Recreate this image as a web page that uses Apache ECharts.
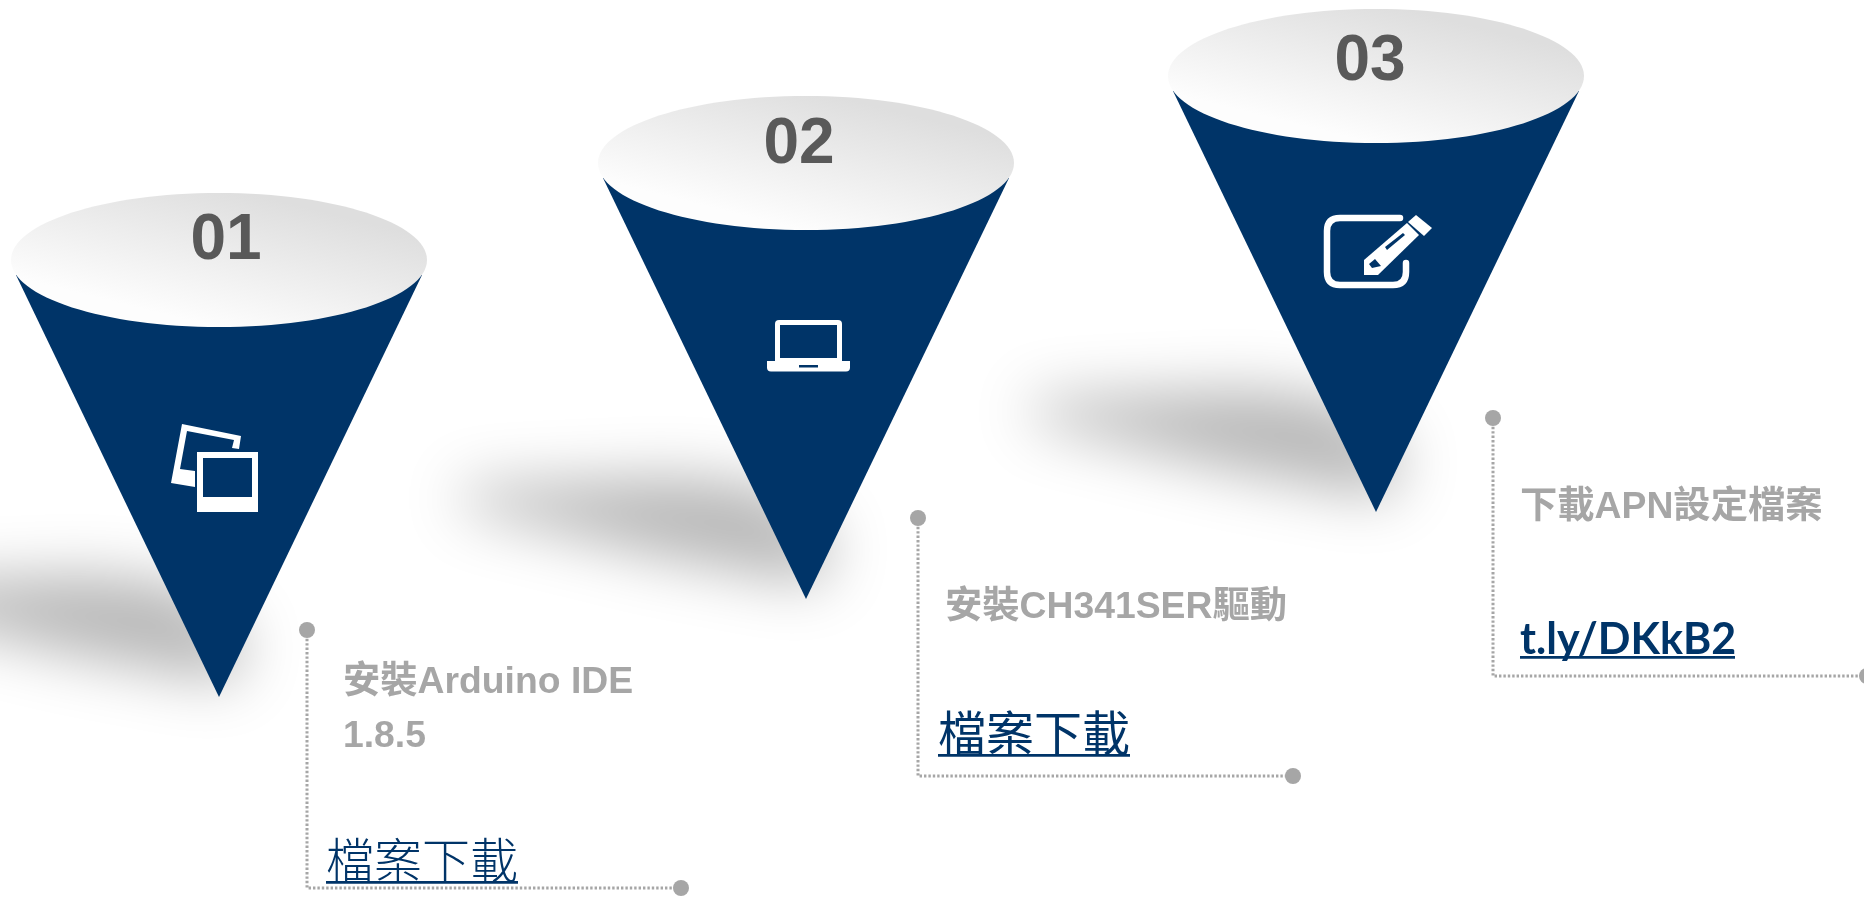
<!DOCTYPE html>
<html><head><meta charset="utf-8">
<style>html,body{margin:0;padding:0;background:#fff;overflow:hidden}#c{width:1864px;height:897px}</style>
<script src="https://cdn.jsdelivr.net/npm/echarts@6/dist/echarts.min.js"></script>
</head><body><div id="c"></div>
<script>
// ---- content ----
const stepNumbers = ['01', '02', '03'];
const stepTitles = [['安裝Arduino IDE', '1.8.5'], ['安裝CH341SER驅動'], ['下載APN設定檔案']];
const stepLinks = ['檔案下載', '檔案下載', 't.ly/DKkB2'];

// ---- layout (separate from content) ----
const coneX = [219, 806, 1376];
const coneTopY = [260, 163, 76];
const coneApexY = [697, 599, 512];
const numberPos = [[226, 241], [799, 145], [1370, 62]];
const titlePos = [[[343, 683], [343, 737]], [[945, 608]], [[1520, 508]]];
const linkPos = [[326, 884], [938, 757], [1520, 640]];
const linkUnderline = [[326, 518, 881], [938, 1130, 754], [1520, 1735, 656]];
const callouts = [
  [[307, 630], [307, 888], [681, 888]],
  [[918, 518], [918, 776], [1293, 776]],
  [[1493, 418], [1493, 676], [1867, 676]]
];
const NAVY = '#003468', GREY = '#a6a6a6';
const latin = '"Liberation Sans","Noto Sans CJK TC"';
const linkFonts = ['300 48px "Noto Sans CJK TC"', '400 48px "Noto Sans CJK TC"', '700 43px Lato'];
const stepIdx = stepNumbers.map((_, i) => [i]);

function poly(api, pts, style) {
  return { type: 'polygon', shape: { points: pts.map(p => api.coord(p)) }, style };
}
function icon(i, api) {
  const W = { fill: '#fff' }, N = { fill: NAVY };
  if (i === 0) {
    return [
      poly(api, [[182, 424], [241, 436], [239, 449], [232, 448], [234, 440], [187, 431], [180, 469], [195, 471], [195, 487], [171, 483]], W),
      poly(api, [[197, 452], [258, 452], [258, 512], [197, 512]], W),
      poly(api, [[203, 458], [252, 458], [252, 497], [203, 497]], N)
    ];
  }
  if (i === 1) {
    const a = api.coord([775, 320]), b = api.coord([767, 361]);
    return [
      { type: 'rect', shape: { x: a[0], y: a[1], width: 67, height: 44, r: [4, 4, 0, 0] }, style: W },
      poly(api, [[780, 325], [837, 325], [837, 358], [780, 358]], N),
      { type: 'rect', shape: { x: b[0], y: b[1], width: 83, height: 10.5, r: [0, 0, 4, 4] }, style: W },
      poly(api, [[799, 365], [818, 365], [818, 367.5], [799, 367.5]], N)
    ];
  }
  const c = api.coord([0, 0]);
  const ox = c[0], oy = c[1];
  const d = 'M1400 218 L1340 218 Q1327 218 1327 231 L1327 272 Q1327 285 1340 285 L1393 285 Q1406 285 1406 272 L1406 263';
  return [
    { type: 'path', shape: { pathData: d, layout: 'none' }, x: ox, y: oy, style: { fill: 'none', stroke: '#fff', lineWidth: 6.5, lineCap: 'round' } },
    poly(api, [[1364, 275], [1364, 260], [1407, 223], [1419, 235], [1378, 275]], W),
    poly(api, [[1385, 247], [1403, 233], [1405, 235], [1387, 250]], N),
    poly(api, [[1369, 264], [1375, 259], [1381, 266], [1372, 268]], N),
    poly(api, [[1408, 222], [1416, 215], [1432, 228], [1424, 236]], W)
  ];
}

const chart = echarts.init(document.getElementById('c'), null, { renderer: 'canvas' });
chart.setOption({
  animation: false,
  backgroundColor: '#fff',
  grid: { left: 0, right: 0, top: 0, bottom: 0 },
  xAxis: { type: 'value', min: 0, max: 1864, show: false },
  yAxis: { type: 'value', min: 0, max: 897, inverse: true, show: false },
  series: [
    { // ground shadows
      type: 'custom', coordinateSystem: 'cartesian2d', z: 1, clip: true, silent: true, data: stepIdx,
      renderItem(p, api) {
        const i = api.value(0), x = coneX[i], y = coneApexY[i];
        const off = 4000;
        const pts = [[x - 345, y - 112], [x - 130, y - 122], [x - 40, y - 112], [x + 28, y - 62], [x + 12, y - 14], [x - 150, y - 44], [x - 345, y - 92]];
        return { type: 'polygon', shape: { points: pts.map(q => { const c = api.coord(q); return [c[0] - off, c[1]]; }) },
          style: { fill: '#000', shadowColor: 'rgba(0,0,0,0.29)', shadowBlur: 60, shadowOffsetX: off } };
      }
    },
    { // cones, lids, icons, numbers
      type: 'custom', coordinateSystem: 'cartesian2d', z: 2, clip: false, silent: true, data: stepIdx,
      renderItem(p, api) {
        const i = api.value(0), x = coneX[i], t = coneTopY[i], a = coneApexY[i];
        const c = api.coord([x, t]);
        const np = api.coord(numberPos[i]);
        return { type: 'group', children: [
          poly(api, [[x - 203, t + 15], [x + 203, t + 15], [x, a]], { fill: NAVY }),
          { type: 'ellipse', shape: { cx: c[0], cy: c[1], rx: 208, ry: 67 },
            style: { fill: new echarts.graphic.LinearGradient(0.57, 0, 0.49, 1, [
              { offset: 0, color: '#dedede' }, { offset: 1, color: '#fdfdfd' }]) } },
          ...icon(i, api),
          { type: 'text', x: np[0], y: np[1], style: { text: stepNumbers[i], font: '700 64px ' + latin, fill: '#595959', align: 'center', verticalAlign: 'middle' } }
        ] };
      }
    },
    { // callouts and texts
      type: 'custom', coordinateSystem: 'cartesian2d', z: 3, clip: false, silent: true, data: stepIdx,
      renderItem(p, api) {
        const i = api.value(0), ln = callouts[i].map(q => api.coord(q));
        const kids = [
          { type: 'polyline', shape: { points: ln }, style: { fill: 'none', stroke: GREY, lineWidth: 3, lineDash: [2.4, 2] } },
          { type: 'circle', shape: { cx: ln[0][0], cy: ln[0][1], r: 8 }, style: { fill: GREY } },
          { type: 'circle', shape: { cx: ln[2][0], cy: ln[2][1], r: 8 }, style: { fill: GREY } }
        ];
        stepTitles[i].forEach((t, k) => {
          const q = api.coord(titlePos[i][k]);
          kids.push({ type: 'text', x: q[0], y: q[1], style: { text: t, font: '700 37.3px ' + latin, fill: GREY, align: 'left', verticalAlign: 'middle' } });
        });
        const q = api.coord(linkPos[i]);
        kids.push({ type: 'text', x: q[0], y: q[1], style: { text: stepLinks[i], font: linkFonts[i], fill: NAVY, align: 'left', verticalAlign: i === 2 ? 'middle' : 'bottom' } });
        const u = linkUnderline[i], a = api.coord([u[0], u[2]]), b = api.coord([u[1], u[2]]);
        kids.push({ type: 'rect', shape: { x: a[0], y: a[1], width: b[0] - a[0], height: 2.8 }, style: { fill: NAVY } });
        return { type: 'group', children: kids };
      }
    }
  ]
});
</script></body></html>
